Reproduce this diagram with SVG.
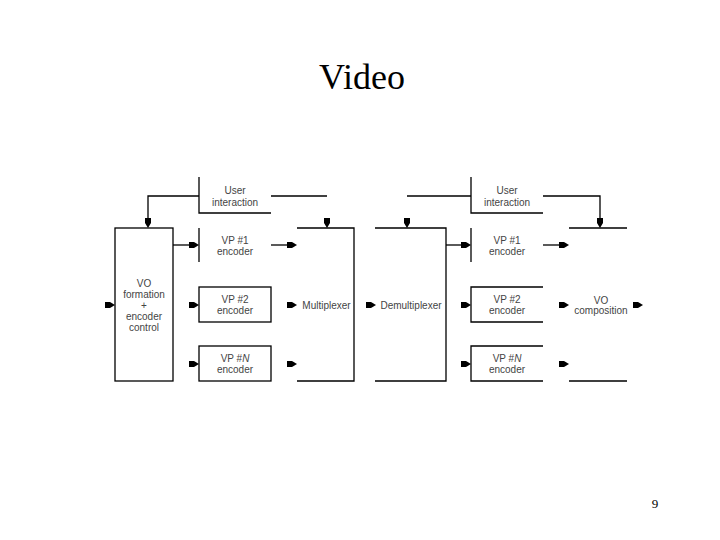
<svg xmlns="http://www.w3.org/2000/svg" xmlns:xlink="http://www.w3.org/1999/xlink" width="720" height="540" viewBox="0 0 720 540">
<style>
.ln{fill:none;stroke:#000;stroke-width:1.3}
.lb{font-family:"Liberation Sans",Arial,sans-serif;font-size:10px;fill:#444;text-anchor:middle}
.ttl{font-family:"Liberation Serif","Times New Roman",serif;font-size:36px;fill:#000;text-anchor:middle}
.pg{font-family:"Liberation Serif","Times New Roman",serif;font-size:13px;fill:#000;text-anchor:middle}
</style>
<defs>
<path id="ah" d="M-10,-3 L-5,-3 L0,0 L-5,3 L-10,3 Z" fill="#000"/>
</defs>
<rect width="720" height="540" fill="#fff"/>
<text class="ttl" x="362" y="89">Video</text>
<text class="pg" x="655" y="508">9</text>

<g id="ui-left">
<path class="ln" d="M199,177 V213 H271"/>
<text class="lb" x="235" y="194">User</text>
<text class="lb" x="235" y="205.5">interaction</text>
</g>
<g id="vp1-left">
<path class="ln" d="M199,228 V262"/>
<text class="lb" x="235" y="244">VP #1</text>
<text class="lb" x="235" y="255">encoder</text>
</g>
<g id="vp2-left">
<rect class="ln" x="199" y="287" width="72" height="35"/>
<text class="lb" x="235" y="303">VP #2</text>
<text class="lb" x="235" y="314">encoder</text>
</g>
<g id="vpn-left">
<rect class="ln" x="199" y="346" width="72" height="35"/>
<text class="lb" x="235" y="362">VP #<tspan font-style="italic">N</tspan></text>
<text class="lb" x="235" y="373">encoder</text>
</g>
<g id="vo-formation">
<rect class="ln" x="115" y="228" width="58" height="153"/>
<text class="lb" x="144" y="287">VO</text>
<text class="lb" x="144" y="298">formation</text>
<text class="lb" x="144" y="309">+</text>
<text class="lb" x="144" y="320">encoder</text>
<text class="lb" x="144" y="331">control</text>
</g>
<g id="multiplexer">
<path class="ln" d="M297,228 H354 V381 H297"/>
<text class="lb" x="326.5" y="308.5">Multiplexer</text>
</g>
<g id="demultiplexer">
<path class="ln" d="M375,228 H446 V381 H375"/>
<text class="lb" x="411" y="308.5">Demultiplexer</text>
</g>
<g id="ui-right">
<path class="ln" d="M471,177 V213 H543"/>
<text class="lb" x="507" y="194">User</text>
<text class="lb" x="507" y="205.5">interaction</text>
</g>
<g id="vp1-right">
<path class="ln" d="M471,228 V262"/>
<text class="lb" x="507" y="244">VP #1</text>
<text class="lb" x="507" y="255">encoder</text>
</g>
<g id="vp2-right">
<path class="ln" d="M543,287 H471 V322 H543"/>
<text class="lb" x="507" y="303">VP #2</text>
<text class="lb" x="507" y="314">encoder</text>
</g>
<g id="vpn-right">
<path class="ln" d="M543,346 H471 V381 H543"/>
<text class="lb" x="507" y="362">VP #<tspan font-style="italic">N</tspan></text>
<text class="lb" x="507" y="373">encoder</text>
</g>
<g id="vo-composition">
<path class="ln" d="M569,228 H627 M569,381 H627"/>
<text class="lb" x="601" y="304">VO</text>
<text class="lb" x="601" y="314">composition</text>
</g>

<g id="connectors">
<path class="ln" d="M199,196 H148 V222"/>
<use xlink:href="#ah" transform="translate(148,228) rotate(90)"/>
<path class="ln" d="M173,245 H193"/>
<use xlink:href="#ah" transform="translate(199,245)"/>
<use xlink:href="#ah" transform="translate(115,305)"/>
<use xlink:href="#ah" transform="translate(199,305)"/>
<use xlink:href="#ah" transform="translate(199,364)"/>
<path class="ln" d="M271,196 H327"/>
<use xlink:href="#ah" transform="translate(327,228) rotate(90)"/>
<path class="ln" d="M271,245 H291"/>
<use xlink:href="#ah" transform="translate(297,245)"/>
<use xlink:href="#ah" transform="translate(297,305)"/>
<use xlink:href="#ah" transform="translate(297,364)"/>
<path class="ln" d="M407,196 H471"/>
<use xlink:href="#ah" transform="translate(407,228) rotate(90)"/>
<use xlink:href="#ah" transform="translate(376,305)"/>
<path class="ln" d="M446,245 H465"/>
<use xlink:href="#ah" transform="translate(471,245)"/>
<use xlink:href="#ah" transform="translate(471,305)"/>
<use xlink:href="#ah" transform="translate(471,364)"/>
<path class="ln" d="M543,196 H600 V222"/>
<use xlink:href="#ah" transform="translate(600,228) rotate(90)"/>
<path class="ln" d="M543,245 H563"/>
<use xlink:href="#ah" transform="translate(569,245)"/>
<use xlink:href="#ah" transform="translate(569,305)"/>
<use xlink:href="#ah" transform="translate(569,364)"/>
<use xlink:href="#ah" transform="translate(643,305)"/>
</g>
</svg>
